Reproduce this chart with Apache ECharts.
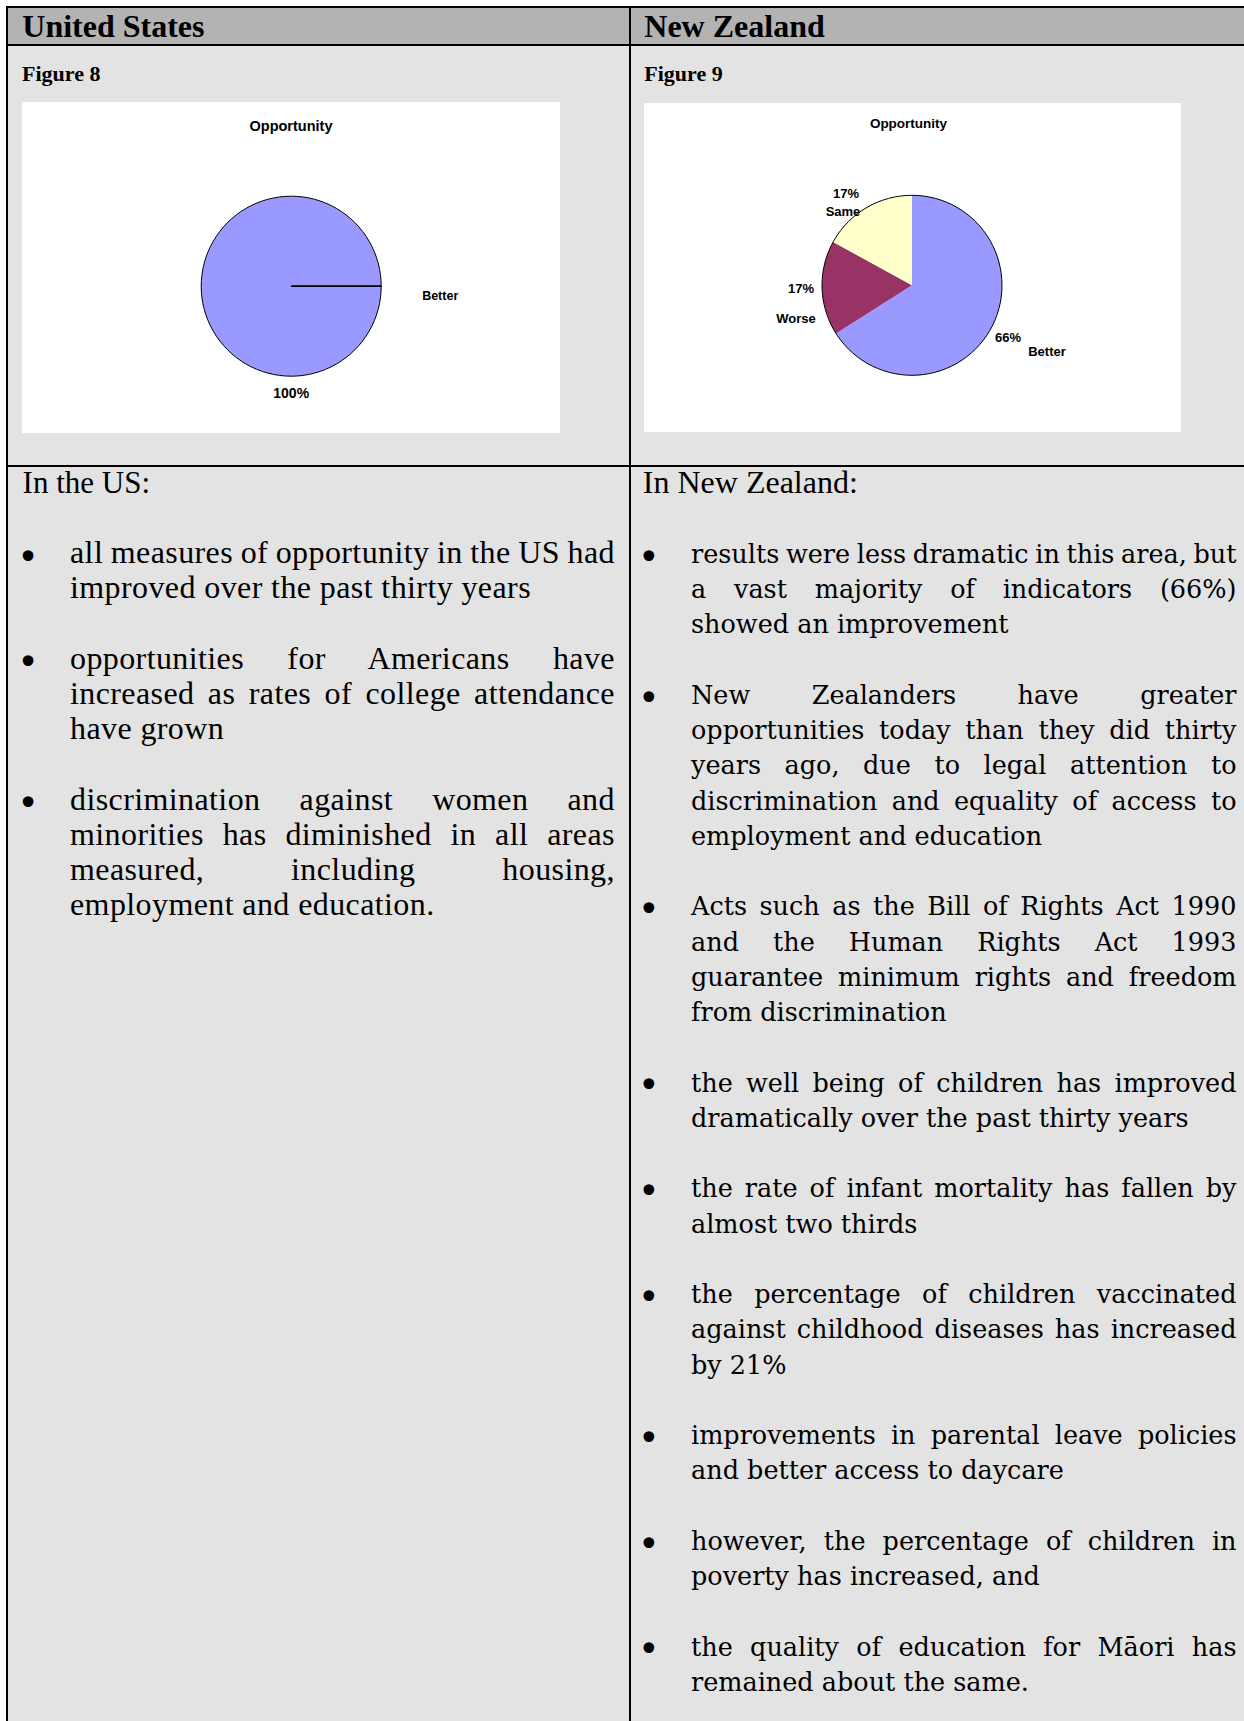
<!DOCTYPE html>
<html lang="en">
<head>
<meta charset="utf-8">
<title>Opportunity – United States and New Zealand</title>
<script src="https://cdn.jsdelivr.net/npm/echarts@6.0.0/dist/echarts.min.js"></script>
<style>
  html, body { margin: 0; padding: 0; }
  body { width: 1244px; height: 1721px; position: relative; overflow: hidden; background: #fff; color: #000; }
  .blk { position: absolute; }
  .ln { position: absolute; white-space: nowrap; }
  .chart { position: absolute; background: #fff; }
</style>
</head>
<body>
<div class="blk" style="left:6px;top:6px;width:1238px;height:1715px;background:#e3e3e3"></div>
<div class="blk" style="left:8px;top:8px;width:1236px;height:36px;background:#b3b3b3"></div>
<div class="blk" style="left:6px;top:6px;width:1238px;height:2px;background:#000"></div>
<div class="blk" style="left:6px;top:44px;width:1238px;height:2px;background:#000"></div>
<div class="blk" style="left:6px;top:465px;width:1238px;height:2px;background:#000"></div>
<div class="blk" style="left:6px;top:6px;width:2px;height:1715px;background:#000"></div>
<div class="blk" style="left:629px;top:6px;width:2px;height:1715px;background:#000"></div>
<div id="usChart" class="chart" style="left:22px;top:102px;width:538px;height:331px"></div>
<div id="nzChart" class="chart" style="left:644px;top:103px;width:537px;height:329px"></div>
<script>
// ---------------- data ----------------
const categories = ['Better', 'Worse', 'Same'];
const usValues = [100, 0, 0];
const nzValues = [66, 17, 17];
const sliceColors = ['#9999ff', '#993366', '#ffffcc'];
const chartTitle = 'Opportunity';
const columnHeads = ['United States', 'New Zealand'];
const figureLabels = ['Figure 8', 'Figure 9'];

const usIntro = 'In the US:';
const usBullets = [
  ['all measures of opportunity in the US had', 'improved over the past thirty years'],
  ['opportunities for Americans have', 'increased as rates of college attendance', 'have grown'],
  ['discrimination against women and', 'minorities has diminished in all areas', 'measured, including housing,', 'employment and education.']
];
const nzIntro = 'In New Zealand:';
const nzBullets = [
  ['results were less dramatic in this area, but', 'a vast majority of indicators (66%)', 'showed an improvement'],
  ['New Zealanders have greater', 'opportunities today than they did thirty', 'years ago, due to legal attention to', 'discrimination and equality of access to', 'employment and education'],
  ['Acts such as the Bill of Rights Act 1990', 'and the Human Rights Act 1993', 'guarantee minimum rights and freedom', 'from discrimination'],
  ['the well being of children has improved', 'dramatically over the past thirty years'],
  ['the rate of infant mortality has fallen by', 'almost two thirds'],
  ['the percentage of children vaccinated', 'against childhood diseases has increased', 'by 21%'],
  ['improvements in parental leave policies', 'and better access to daycare'],
  ['however, the percentage of children in', 'poverty has increased, and'],
  ['the quality of education for M\u0101ori has', 'remained about the same.']
];

// ---------------- styles ----------------
const SANS = "'Liberation Sans', Arial, sans-serif";
const SERIF = "'Liberation Serif', 'Times New Roman', serif";
const WIDE_SERIF = "'DejaVu Serif', serif";

const usStyle = {
  center: [269.2, 184.2], radius: 90, startAngle: 0,
  titleX: 269, titleY: 24, titleSize: 14.5,
  pctSize: 14, nameSize: 12.5,
  pctOffset: { Better: [0, 107] },
  nameOffset: { Better: [149, 10] },
  sliceBorder: 1, outline: false
};
const nzStyle = {
  center: [268, 182.3], radius: 90, startAngle: 90,
  titleX: 264.5, titleY: 20.7, titleSize: 13.5,
  pctSize: 13, nameSize: 13,
  pctOffset: { Better: [96, 52], Worse: [-111, 3], Same: [-66, -92] },
  nameOffset: { Better: [135, 66], Worse: [-116, 33], Same: [-69, -74] },
  sliceBorder: 0, outline: true
};

function buildOption(values, st) {
  const total = values.reduce((a, b) => a + b, 0);
  const base = {
    type: 'pie', center: st.center, radius: st.radius, startAngle: st.startAngle,
    clockwise: true, silent: true, animation: false, avoidLabelOverlap: false,
    labelLine: { show: false }, emphasis: { disabled: true }
  };
  const lab = (size) => ({ position: 'center', color: '#000', fontFamily: SANS, fontWeight: 'bold', fontSize: size });
  const offsetFn = (map) => (p) => {
    const o = map[categories[p.dataIndex]];
    return o ? { dx: o[0], dy: o[1] } : {};
  };
  const sliceData = categories.map((c, i) => ({
    name: c, value: values[i], itemStyle: { color: sliceColors[i] }, label: { show: values[i] > 0 }
  }));
  const nameData = categories.map((c, i) => ({
    name: c, value: values[i], itemStyle: { color: 'rgba(0,0,0,0)' }, label: { show: values[i] > 0 }
  }));
  const series = [
    Object.assign({}, base, {
      name: 'slices', z: 2, data: sliceData,
      itemStyle: { borderColor: '#000', borderWidth: st.sliceBorder },
      label: Object.assign(lab(st.pctSize), { formatter: '{d}%' }),
      labelLayout: offsetFn(st.pctOffset)
    }),
    Object.assign({}, base, {
      name: 'names', z: 3, data: nameData,
      itemStyle: { borderWidth: 0 },
      label: Object.assign(lab(st.nameSize), { formatter: '{b}' }),
      labelLayout: offsetFn(st.nameOffset)
    })
  ];
  if (st.outline) {
    series.push(Object.assign({}, base, {
      name: 'outline', z: 4, data: [{ name: 'total', value: total }],
      itemStyle: { color: 'rgba(0,0,0,0)', borderColor: '#000', borderWidth: 1 },
      label: { show: false }
    }));
  }
  return {
    backgroundColor: '#fff',
    animation: false,
    title: {
      text: chartTitle, left: st.titleX, top: st.titleY - st.titleSize / 2, textAlign: 'center', padding: 0,
      textStyle: { fontFamily: SANS, fontWeight: 'bold', fontSize: st.titleSize, color: '#000', lineHeight: st.titleSize }
    },
    series: series
  };
}

echarts.init(document.getElementById('usChart'), null, { renderer: 'svg' }).setOption(buildOption(usValues, usStyle));
echarts.init(document.getElementById('nzChart'), null, { renderer: 'svg' }).setOption(buildOption(nzValues, nzStyle));

// ---------------- text layout ----------------
function placeText(text, x, baseline, font, justifyWidth, letterSpacing) {
  const d = document.createElement('div');
  d.className = 'ln';
  d.style.font = font;
  d.style.lineHeight = '40px';
  if (letterSpacing) d.style.letterSpacing = letterSpacing + 'px';
  d.style.left = x + 'px';
  d.style.top = '0px';
  const s = document.createElement('span');
  s.textContent = text;
  const m = document.createElement('span');
  m.style.cssText = 'display:inline-block;width:0;height:0;vertical-align:baseline';
  d.appendChild(s);
  d.appendChild(m);
  document.body.appendChild(d);
  if (justifyWidth) {
    const nat = s.getBoundingClientRect().width - (letterSpacing || 0);
    const gaps = (text.match(/ /g) || []).length;
    if (gaps) s.style.wordSpacing = ((justifyWidth - nat) / gaps) + 'px';
  }
  const off = m.getBoundingClientRect().top - d.getBoundingClientRect().top;
  d.style.top = (baseline - off) + 'px';
  return d;
}

const mctx = document.createElement('canvas').getContext('2d');
function placeBullet(cx, cy, diameter, family) {
  mctx.font = '100px ' + family;
  const mt = mctx.measureText('\u2022');
  const inkW = mt.actualBoundingBoxLeft + mt.actualBoundingBoxRight;
  const fs = 100 * diameter / inkW;
  const k = fs / 100;
  const midX = (mt.actualBoundingBoxRight - mt.actualBoundingBoxLeft) / 2 * k;
  const midY = (mt.actualBoundingBoxAscent - mt.actualBoundingBoxDescent) / 2 * k;
  placeText('\u2022', cx - midX, cy + midY, fs + 'px ' + family);
}

const B0 = 492.3, PITCH = 35.25;
function placeColumn(intro, bullets, cfg) {
  placeText(intro, cfg.introX, B0 + 1, cfg.introFont);
  let line = 0;
  bullets.forEach((para) => {
    line += 2;
    placeBullet(cfg.bulletX, B0 + line * PITCH - 7, 11, "'DejaVu Sans', sans-serif");
    para.forEach((t, j) => {
      const last = j === para.length - 1;
      placeText(t, cfg.textX, B0 + (line + j) * PITCH, cfg.bodyFont, last ? 0 : cfg.textRight - cfg.textX, cfg.ls);
    });
    line += para.length - 1;
  });
}

// headers
placeText(columnHeads[0], 22.3, 36.8, 'bold 32px ' + SERIF);
placeText(columnHeads[1], 644.3, 36.8, 'bold 32px ' + SERIF);
placeText(figureLabels[0], 22, 80.8, 'bold 22px ' + SERIF);
placeText(figureLabels[1], 644.3, 80.8, 'bold 22px ' + SERIF);

placeColumn(usIntro, usBullets, {
  introX: 22.6, introFont: '31px ' + SERIF,
  bulletX: 27.8, textX: 70, textRight: 614.5, bodyFont: '32px ' + SERIF, ls: 0.4
});
placeColumn(nzIntro, nzBullets, {
  introX: 642.8, introFont: '32px ' + SERIF,
  bulletX: 648.7, textX: 691, textRight: 1236.5, bodyFont: '25.5px ' + WIDE_SERIF, ls: 0
});
</script>
</body>
</html>
